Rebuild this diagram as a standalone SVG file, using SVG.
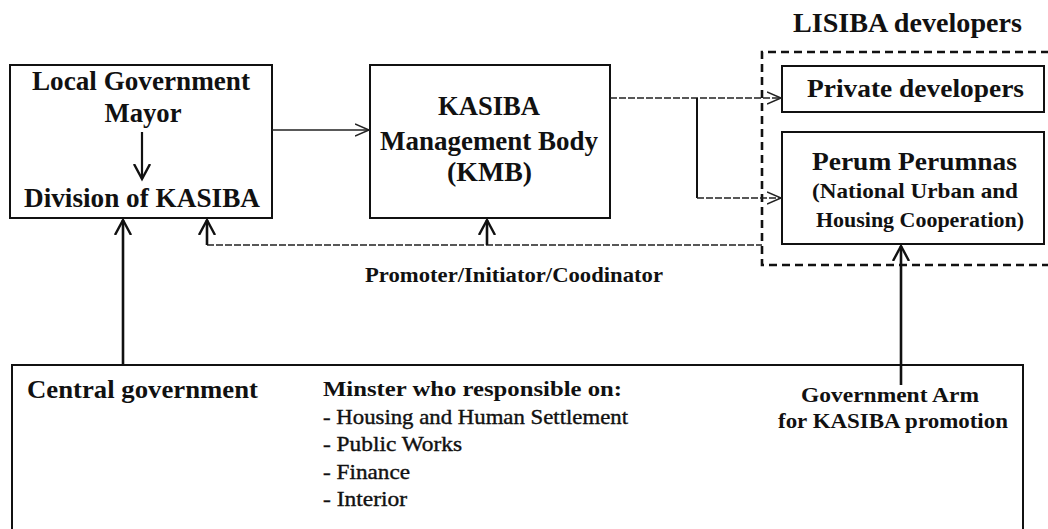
<svg xmlns="http://www.w3.org/2000/svg" width="1048" height="529" viewBox="0 0 1048 529">
  <style>
    .t { font-family: "Liberation Serif", "Times New Roman", serif; font-weight: bold; fill: #111; }
    .r { font-family: "Liberation Serif", "Times New Roman", serif; font-weight: normal; fill: #111; stroke: #111; stroke-width: 0.4; }
    .box { fill: none; stroke: #111; stroke-width: 2; }
    .thin { fill: none; stroke: #222; stroke-width: 1.3; }
    .dash { fill: none; stroke: #222; stroke-width: 1.3; stroke-dasharray: 7 2; }
    .thick { fill: none; stroke: #111; stroke-width: 2.6; }
  </style>
  <defs>
    <marker id="headThin" markerUnits="userSpaceOnUse" markerWidth="16" markerHeight="16" refX="14" refY="7" orient="auto">
      <path d="M0,1 L14,7 L0,13" fill="none" stroke="#222" stroke-width="1.5"/>
    </marker>
    <marker id="headThick" markerUnits="userSpaceOnUse" markerWidth="18" markerHeight="20" refX="15" refY="9" orient="auto">
      <path d="M0,1 L15,9 L0,17" fill="none" stroke="#111" stroke-width="2.4"/>
    </marker>
  </defs>
  <rect width="1048" height="529" fill="#fff"/>

  <!-- LISIBA developer group frame -->
  <g id="lisiba">
    <path d="M1049,52 L762,52 L762,265 L1049,265" fill="none" stroke="#111" stroke-width="2.6" stroke-dasharray="8 5"/>
    <text class="t" x="907.5" y="32" font-size="27" text-anchor="middle" textLength="229" lengthAdjust="spacingAndGlyphs">LISIBA developers</text>
  </g>

  <g id="local-government">
    <rect class="box" x="10" y="65" width="262" height="153"/>
    <text class="t" x="141" y="90" font-size="27" text-anchor="middle" textLength="218" lengthAdjust="spacingAndGlyphs">Local Government</text>
    <text class="t" x="143" y="122" font-size="27" text-anchor="middle" textLength="77" lengthAdjust="spacingAndGlyphs">Mayor</text>
    <line x1="142" y1="132" x2="142" y2="179" stroke="#111" stroke-width="2.2" marker-end="url(#headThick)"/>
    <text class="t" x="142" y="207" font-size="27" text-anchor="middle" textLength="236" lengthAdjust="spacingAndGlyphs">Division of KASIBA</text>
  </g>

  <g id="kmb">
    <rect class="box" x="370" y="65" width="240" height="153"/>
    <text class="t" x="489" y="115" font-size="27" text-anchor="middle" textLength="102" lengthAdjust="spacingAndGlyphs">KASIBA</text>
    <text class="t" x="489" y="150" font-size="27" text-anchor="middle" textLength="218" lengthAdjust="spacingAndGlyphs">Management Body</text>
    <text class="t" x="489.5" y="181" font-size="27" text-anchor="middle" textLength="85" lengthAdjust="spacingAndGlyphs">(KMB)</text>
  </g>

  <g id="private-developers">
    <rect class="box" x="782" y="66" width="262" height="46"/>
    <text class="t" x="915.5" y="97" font-size="25" text-anchor="middle" textLength="217" lengthAdjust="spacingAndGlyphs">Private developers</text>
  </g>

  <g id="perum-perumnas">
    <rect class="box" x="782" y="132" width="262" height="112"/>
    <text class="t" x="914.5" y="170" font-size="26" text-anchor="middle" textLength="205" lengthAdjust="spacingAndGlyphs">Perum Perumnas</text>
    <text class="t" x="915" y="198" font-size="22" text-anchor="middle" textLength="206" lengthAdjust="spacingAndGlyphs">(National Urban and</text>
    <text class="t" x="920" y="227" font-size="22" text-anchor="middle" textLength="208" lengthAdjust="spacingAndGlyphs">Housing Cooperation)</text>
  </g>

  <g id="central-government">
    <rect class="box" x="12" y="365" width="1011" height="180"/>
    <text class="t" x="27" y="398" font-size="26" textLength="231" lengthAdjust="spacingAndGlyphs">Central government</text>
    <text class="t" x="323" y="396" font-size="21" textLength="299" lengthAdjust="spacingAndGlyphs">Minster who responsible on:</text>
    <text class="r" x="323" y="424" font-size="22" textLength="305" lengthAdjust="spacingAndGlyphs">- Housing and Human Settlement</text>
    <text class="r" x="323" y="451" font-size="22" textLength="139" lengthAdjust="spacingAndGlyphs">- Public Works</text>
    <text class="r" x="323" y="479" font-size="22" textLength="87" lengthAdjust="spacingAndGlyphs">- Finance</text>
    <text class="r" x="323" y="506" font-size="22" textLength="84" lengthAdjust="spacingAndGlyphs">- Interior</text>
    <text class="t" x="890" y="402" font-size="22" text-anchor="middle" textLength="178" lengthAdjust="spacingAndGlyphs">Government Arm</text>
    <text class="t" x="893" y="428" font-size="22" text-anchor="middle" textLength="230" lengthAdjust="spacingAndGlyphs">for KASIBA promotion</text>
  </g>

  <g id="promoter-label">
    <text class="t" x="514" y="282" font-size="22" text-anchor="middle" textLength="298" lengthAdjust="spacingAndGlyphs">Promoter/Initiator/Coodinator</text>
  </g>

  <g id="connectors">
    <!-- local government to KMB -->
    <line class="thin" x1="272" y1="130" x2="369" y2="130" marker-end="url(#headThin)"/>
    <!-- KMB to developers -->
    <line class="dash" x1="610" y1="98" x2="781" y2="98" marker-end="url(#headThin)"/>
    <line x1="697" y1="98" x2="697" y2="198" stroke="#111" stroke-width="2"/>
    <line class="dash" x1="697" y1="198" x2="781" y2="198" marker-end="url(#headThin)"/>
    <!-- promoter / initiator / coordinator feedback -->
    <line class="dash" x1="207" y1="245" x2="762" y2="245"/>
    <line class="thick" x1="207" y1="245" x2="207" y2="220" marker-end="url(#headThick)"/>
    <line class="thick" x1="487" y1="245" x2="487" y2="220" marker-end="url(#headThick)"/>
    <!-- central government to local government -->
    <line class="thick" x1="123" y1="365" x2="123" y2="220" marker-end="url(#headThick)"/>
    <!-- government arm to Perum Perumnas -->
    <line class="thick" x1="901" y1="385" x2="901" y2="246" marker-end="url(#headThick)"/>
  </g>
</svg>
